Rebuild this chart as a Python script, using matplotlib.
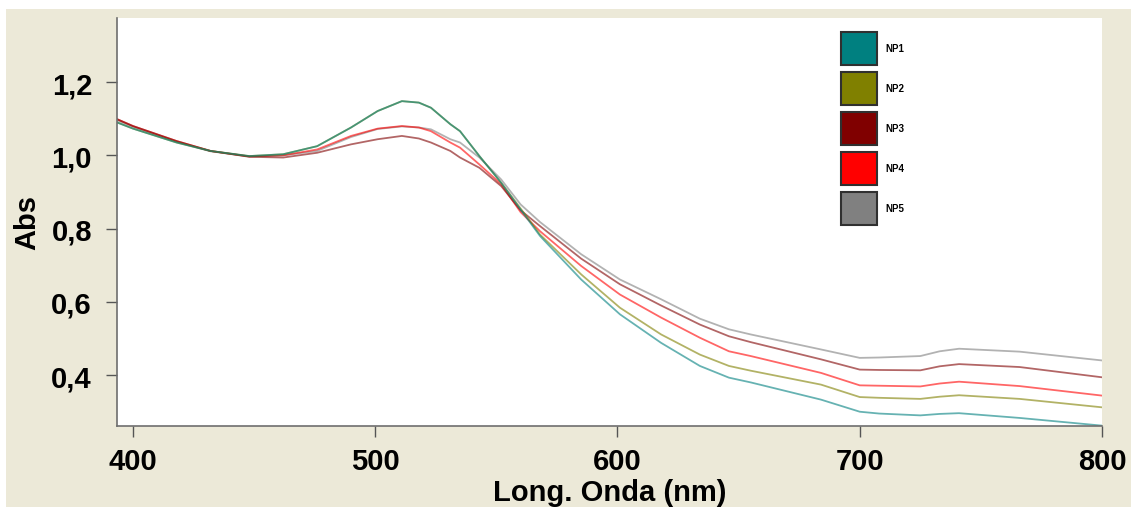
import matplotlib.pyplot as plt
from matplotlib.patches import Patch, Rectangle

# wavelengths (nm) and absorbance
wl = [393, 400, 418, 432, 448, 462, 476, 490, 501, 511, 518, 523, 531, 535, 543, 552,
      560, 568, 585, 601, 618, 634, 646, 655, 684, 700, 708, 725, 733, 741, 766, 800]
np1 = [1.091, 1.073, 1.035, 1.012, 0.998, 1.003, 1.025, 1.076, 1.121, 1.148, 1.144,
       1.130, 1.085, 1.066, 0.998, 0.925, 0.852, 0.780, 0.661, 0.566, 0.488, 0.425,
       0.393, 0.380, 0.333, 0.300, 0.295, 0.290, 0.294, 0.296, 0.283, 0.262]
np2 = [1.091, 1.073, 1.035, 1.012, 0.998, 1.003, 1.025, 1.076, 1.121, 1.148, 1.144,
       1.130, 1.085, 1.066, 0.998, 0.925, 0.855, 0.784, 0.675, 0.584, 0.511, 0.456,
       0.425, 0.412, 0.374, 0.340, 0.338, 0.335, 0.341, 0.345, 0.335, 0.312]
np3 = [1.100, 1.080, 1.039, 1.012, 0.996, 0.994, 1.007, 1.030, 1.044, 1.053, 1.046,
       1.035, 1.012, 0.994, 0.966, 0.916, 0.850, 0.807, 0.718, 0.648, 0.590, 0.538,
       0.506, 0.490, 0.443, 0.415, 0.414, 0.413, 0.424, 0.430, 0.422, 0.394]
np4 = [1.100, 1.080, 1.039, 1.012, 0.997, 1.000, 1.016, 1.053, 1.073, 1.080, 1.076,
       1.066, 1.035, 1.021, 0.975, 0.921, 0.845, 0.793, 0.698, 0.620, 0.557, 0.502,
       0.465, 0.452, 0.406, 0.372, 0.371, 0.369, 0.377, 0.382, 0.370, 0.344]
np5 = [1.097, 1.078, 1.037, 1.011, 0.997, 1.000, 1.012, 1.050, 1.072, 1.079, 1.076,
       1.071, 1.044, 1.035, 0.994, 0.934, 0.866, 0.818, 0.730, 0.661, 0.607, 0.554,
       0.525, 0.511, 0.470, 0.447, 0.448, 0.452, 0.465, 0.472, 0.464, 0.440]

names = ['NP1', 'NP2', 'NP3', 'NP4', 'NP5']
series = [np1, np2, np3, np4, np5]
colors = ['#008080', '#808000', '#800000', '#ff0000', '#808080']

xticks = [400, 500, 600, 700, 800]
yticks = [0.4, 0.6, 0.8, 1.0, 1.2]
ytick_labels = ['0,4', '0,6', '0,8', '1,0', '1,2']

plt.rcParams['font.family'] = ['Liberation Sans', 'DejaVu Sans']

fig = plt.figure(figsize=(11.31, 5.10), dpi=100)
fig.patch.set_facecolor('white')
# beige panel behind the chart
fig.patches.append(Rectangle((6/1131, 2/510), 1, 498/510, transform=fig.transFigure,
                             facecolor='#ece9d8', edgecolor='none', zorder=-10))

ax = fig.add_axes([117/1131, 1 - 427/510, 985/1131, 408/510])
ax.set_facecolor('white')

# draw last series first so NP1 sits on top
for name, vals, c in reversed(list(zip(names, series, colors))):
    ax.plot(wl, vals, color=c, lw=1.3, alpha=0.6)

ax.set_xlim(393.4, 800)
ax.set_ylim(0.261, 1.375)
ax.set_xticks(xticks)
ax.set_xticklabels([str(t) for t in xticks])
ax.set_yticks(yticks)
ax.set_yticklabels(ytick_labels)

for s in ['top', 'right']:
    ax.spines[s].set_visible(False)
for s in ['left', 'bottom']:
    ax.spines[s].set_color('#6e6e6e')
    ax.spines[s].set_linewidth(1.2)

ax.tick_params(axis='both', direction='out', length=8, width=1, color='#555555',
               labelsize=21)
ax.tick_params(axis='x', pad=7)
ax.tick_params(axis='y', pad=10)
for lab in ax.get_xticklabels() + ax.get_yticklabels():
    lab.set_fontweight('bold')

ax.set_xlabel('Long. Onda (nm)', fontsize=21, fontweight='bold', labelpad=2)
ax.set_ylabel('Abs', fontsize=21, fontweight='bold', labelpad=7)

handles = [Patch(facecolor=c, edgecolor='#303030', linewidth=1.5) for c in colors]
leg = ax.legend(handles, names, loc='upper left', bbox_to_anchor=(0.735, 0.966),
                frameon=False, borderpad=0, borderaxespad=0,
                prop={'size': 7, 'weight': 'bold'},
                handlelength=3.7, handleheight=4.8, labelspacing=0.75,
                handletextpad=0.9)

plt.savefig('out.png', dpi=100, facecolor=fig.get_facecolor())
